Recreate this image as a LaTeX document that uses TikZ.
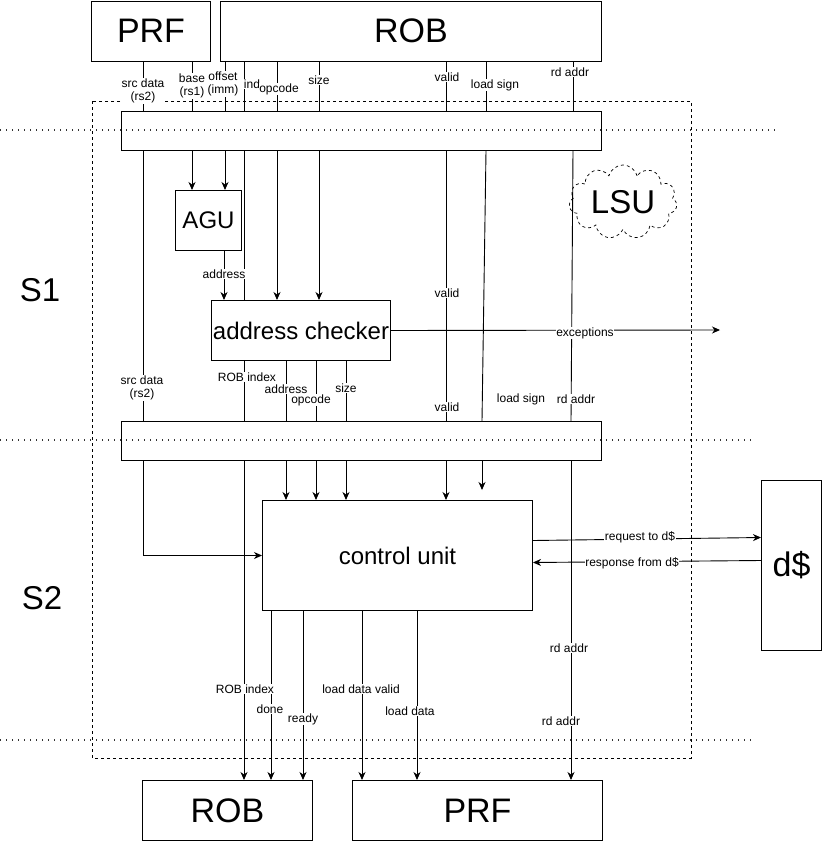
\documentclass[tikz,border=0pt]{standalone}
\usepackage{fontspec}
\setmainfont{Liberation Sans}
\usetikzlibrary{arrows.meta,shapes.symbols}

\begin{document}
\begin{tikzpicture}
		[x=1pt,y=-1pt,
		block/.style={draw,line width=1pt,fill=white,anchor=north west,inner sep=0pt,font=\fontsize{34}{36}\selectfont},
		unit/.style={block,font=\fontsize{24}{26}\selectfont},
		pipereg/.style={draw,line width=1pt,anchor=north west,inner sep=0pt},
		wire/.style={line width=0.9pt},
		sig/.style={wire,-{Stealth[length=8pt,width=7pt,inset=2.5pt]}},
		lbl/.style={fill=white,inner sep=0.6pt,align=center,font=\fontsize{12}{13.5}\selectfont},
		big/.style={font=\fontsize{33}{35}\selectfont},
		stagecut/.style={line width=1.3pt,dash pattern=on 1.3pt off 4.7pt,black!80}]
		
		\useasboundingbox (0,0) rectangle (822,841);
		
		% LSU border and stage cuts
		\draw[line width=0.7pt,dash pattern=on 3pt off 3pt] (92,101) rectangle (691,758);
		\draw[stagecut] (0,130) -- (778,130);
		\draw[stagecut] (0,440) -- (755,440);
		\draw[stagecut] (0,740) -- (755,740);
		
		\node[big] (s1) at (40,290) {S1};
		\node[big] (s2) at (42,598) {S2};
		
		\node[block,minimum width=119pt,minimum height=60pt] (prfT) at (91,0.5) {PRF};
		\node[block,minimum width=381pt,minimum height=60pt] (robT) at (220,0.5) {ROB};
		\node[pipereg,minimum width=480pt,minimum height=39pt] (reg1) at (121,111) {};
		\node[pipereg,minimum width=480pt,minimum height=39pt] (reg2) at (121,421) {};
		\node[unit,minimum width=66pt,minimum height=60pt] (agu) at (175,190) {AGU};
		\node[unit,minimum width=179pt,minimum height=60pt] (chk) at (211,300) {address checker};
		\node[unit,minimum width=270pt,minimum height=110pt] (cu) at (262,500) {control unit};
		\node[block,minimum width=60pt,minimum height=170pt] (dc) at (761,480) {d\$};
		\node[block,minimum width=170pt,minimum height=60pt] (robB) at (142,780) {ROB};
		\node[block,minimum width=250pt,minimum height=60pt] (prfB) at (352,780) {PRF};
		\node[draw,dashed,line width=0.7pt,cloud,cloud puffs=11,aspect=1.6,inner sep=0pt,
		minimum width=108pt,minimum height=70pt,big] (lsu) at (623,202) {LSU};
		
		% signal columns
		\coordinate (csrc) at (143,0);
		\coordinate (cbase) at (192,0);
		\coordinate (coff) at (225,0);
		\coordinate (caddr) at (224,0);
		\coordinate (cind) at (244,0);
		\coordinate (copc) at (277,0);
		\coordinate (csize) at (319,0);
		\coordinate (cvalid) at (446,0);
		\coordinate (clsign) at (486,0);
		\coordinate (clsignb) at (482,0);
		\coordinate (crd) at (573,0);
		\coordinate (crdb) at (571,0);
		\coordinate (caddrb) at (286,0);
		\coordinate (copcb) at (316,0);
		\coordinate (csizeb) at (346,0);
		\coordinate (cdone) at (271,0);
		\coordinate (cready) at (303,0);
		\coordinate (cldv) at (362,0);
		\coordinate (cld) at (417,0);
		\coordinate (exc) at (720,330);
		\coordinate (lsend) at (482,490);
		
		% into S1
		\draw[wire] (prfT.south -| csrc) -- (reg1.north -| csrc);
		\draw[wire] (prfT.south -| cbase) -- (reg1.north -| cbase);
		\draw[wire] (robT.south -| coff) -- (reg1.north -| coff);
		\draw[wire] (robT.south -| cind) -- (reg1.north -| cind);
		\draw[wire] (robT.south -| copc) -- (reg1.north -| copc);
		\draw[wire] (robT.south -| csize) -- (reg1.north -| csize);
		\draw[wire] (robT.south -| cvalid) -- (reg1.north -| cvalid);
		\draw[wire] (robT.south -| clsign) -- (reg1.north -| clsign);
		\draw[wire] (robT.south -| crd) -- (reg1.north -| crd);
		
		% S1
		\draw[sig] (reg1.south -| cbase) -- (agu.north -| cbase);
		\draw[sig] (reg1.south -| coff) -- (agu.north -| coff);
		\draw[sig] (agu.south -| caddr) -- (chk.north -| caddr);
		\draw[sig] (reg1.south -| copc) -- (chk.north -| copc);
		\draw[sig] (reg1.south -| csize) -- (chk.north -| csize);
		\draw[wire] (reg1.south -| cind) -- (chk.north -| cind);
		\draw[wire] (chk.south -| cind) -- (reg2.north -| cind);
		\draw[wire] (reg1.south -| csrc) -- (reg2.north -| csrc);
		\draw[wire] (reg1.south -| cvalid) -- (reg2.north -| cvalid);
		\draw[wire] (reg1.south -| clsign) -- (reg2.north -| clsignb);
		\draw[wire] (reg1.south -| crd) -- (reg2.north -| crdb);
		\draw[wire] (chk.south -| caddrb) -- (reg2.north -| caddrb);
		\draw[wire] (chk.south -| copcb) -- (reg2.north -| copcb);
		\draw[wire] (chk.south -| csizeb) -- (reg2.north -| csizeb);
		\draw[sig] (chk.east) -- (exc);
		
		% S2
		\draw[sig] (reg2.south -| caddrb) -- (cu.north -| caddrb);
		\draw[sig] (reg2.south -| copcb) -- (cu.north -| copcb);
		\draw[sig] (reg2.south -| csizeb) -- (cu.north -| csizeb);
		\draw[sig] (reg2.south -| cvalid) -- (cu.north -| cvalid);
		\draw[sig] (reg2.south -| clsignb) -- (lsend);
		\draw[sig] (reg2.south -| csrc) |- (cu.west);
		\draw[sig] (reg2.south -| cind) -- (robB.north -| cind);
		\draw[sig] (reg2.south -| crdb) -- (prfB.north -| crdb);
		\draw[sig] (cu.south -| cdone) -- (robB.north -| cdone);
		\draw[sig] (cu.south -| cready) -- (robB.north -| cready);
		\draw[sig] (cu.south -| cldv) -- (prfB.north -| cldv);
		\draw[sig] (cu.south -| cld) -- (prfB.north -| cld);
		\draw[sig] ([yshift=15pt]cu.east) -- ([yshift=28pt]dc.west);
		\draw[sig] ([yshift=5pt]dc.west) -- ([yshift=-7pt]cu.east);
		
		% labels
		\node[lbl] (lsrc1) at (143,91) {src data\\(rs2)};
		\node[lbl] (lbase) at (192,86) {base\\(rs1)};
		\node[lbl] (loff) at (223,84) {offset\\(imm)};
		\node[lbl] (lind) at (252,84) {ind};
		\node[lbl] (lopc1) at (279,89) {opcode};
		\node[lbl] (lsize1) at (319,80) {size};
		\node[lbl] (lvalid1) at (447,77) {valid};
		\node[lbl] (llsign1) at (495,85) {load sign};
		\node[lbl] (lrd1) at (570,72) {rd addr};
		\node[lbl] (laddr1) at (224,274) {address};
		\node[lbl] (lvalid2) at (447,293) {valid};
		\node[lbl] (lexc) at (585,333) {exceptions};
		\node[lbl] (lsrc2) at (142,388) {src data\\(rs2)};
		\node[lbl] (lidx1) at (247,377) {ROB index};
		\node[lbl] (laddr2) at (286,389) {address};
		\node[lbl] (lopc2) at (311,400) {opcode};
		\node[lbl] (lsize2) at (346,388) {size};
		\node[lbl] (lvalid3) at (447,407) {valid};
		\node[lbl] (llsign2) at (521,399) {load sign};
		\node[lbl] (lrd2) at (576,399) {rd addr};
		\node[lbl] (lreq) at (640,537) {request to d\$};
		\node[lbl] (lresp) at (632,563) {response from d\$};
		\node[lbl] (lrd3) at (569,648) {rd addr};
		\node[lbl] (lidx2) at (245,689) {ROB index};
		\node[lbl] (ldone) at (270,709) {done};
		\node[lbl] (lready) at (303,719) {ready};
		\node[lbl] (lldv) at (361,689) {load data valid};
		\node[lbl] (lld) at (410,711) {load data};
		\node[lbl] (lrd4) at (561,721) {rd addr};
		
\end{tikzpicture}
\end{document}
